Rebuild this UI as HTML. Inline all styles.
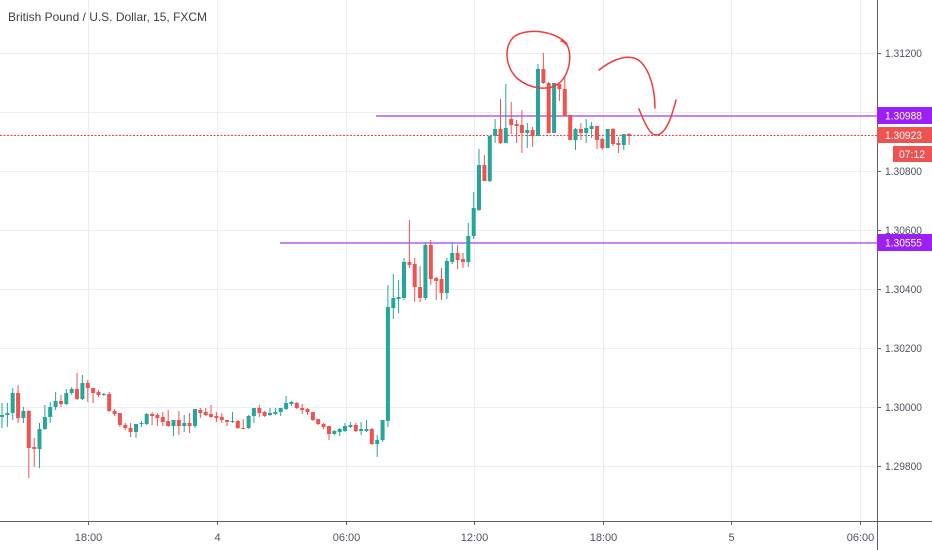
<!DOCTYPE html>
<html>
<head>
<meta charset="utf-8">
<style>
html,body{margin:0;padding:0;background:#fff;}
svg{display:block;}
text{font-family:"Liberation Sans",Arial,sans-serif;}
</style>
</head>
<body>
<svg width="932" height="550" viewBox="0 0 932 550" xmlns="http://www.w3.org/2000/svg">
<rect x="0" y="0" width="932" height="550" fill="#ffffff"/>
<g stroke="#e8edf3" stroke-width="1">
<line x1="88.5" y1="0" x2="88.5" y2="521"/>
<line x1="217.5" y1="0" x2="217.5" y2="521"/>
<line x1="346.5" y1="0" x2="346.5" y2="521"/>
<line x1="474.5" y1="0" x2="474.5" y2="521"/>
<line x1="603.5" y1="0" x2="603.5" y2="521"/>
<line x1="731.5" y1="0" x2="731.5" y2="521"/>
<line x1="860.5" y1="0" x2="860.5" y2="521"/>
<line x1="0" y1="53.5" x2="877" y2="53.5"/>
<line x1="0" y1="112.5" x2="877" y2="112.5"/>
<line x1="0" y1="171.5" x2="877" y2="171.5"/>
<line x1="0" y1="230.5" x2="877" y2="230.5"/>
<line x1="0" y1="289.5" x2="877" y2="289.5"/>
<line x1="0" y1="348.5" x2="877" y2="348.5"/>
<line x1="0" y1="407.5" x2="877" y2="407.5"/>
<line x1="0" y1="466.5" x2="877" y2="466.5"/>
</g>
<text x="8" y="21" font-size="12" fill="#3f3f3f" textLength="199" lengthAdjust="spacingAndGlyphs">British Pound / U.S. Dollar, 15, FXCM</text>
<line x1="0" y1="135.5" x2="877" y2="135.5" stroke="#f0403c" stroke-width="1" stroke-dasharray="2,1.5"/>
<line x1="376" y1="116" x2="877" y2="116" stroke="#b65af2" stroke-width="1.5"/>
<line x1="280" y1="243" x2="877" y2="243" stroke="#b65af2" stroke-width="1.5"/>
<path fill="#26a69a" d="M1.5 403h1v25h-1z M0 415h4v2h-4z M6.9 403h1v24h-1z M5.4 413h4v2h-4z M12.2 388h1v32h-1z M10.7 393h4v20h-4z M22.9 407h1v16h-1z M21.4 411h4v7h-4z M39 423h1v45h-1z M37.5 429h4v20h-4z M44.4 405h1v25h-1z M42.9 417h4v12h-4z M49.7 402h1v21h-1z M48.2 407h4v10h-4z M55.1 392h1v18h-1z M53.6 401h4v6h-4z M65.8 389h1v16h-1z M64.3 393h4v11h-4z M71.2 387h1v8h-1z M69.7 389h4v4h-4z M81.9 375h1v25h-1z M80.4 383h4v16h-4z M103.3 393h1v3h-1z M101.8 394h4v1h-4z M135.5 424h1v14h-1z M134 424h4v8h-4z M140.9 421h1v6h-1z M139.4 423h4v1h-4z M146.2 413h1v12h-1z M144.7 414h4v10h-4z M173 420h1v16h-1z M171.5 420h4v6h-4z M183.7 415h1v17h-1z M182.2 423h4v3h-4z M194.5 409h1v19h-1z M193 409h4v17h-4z M232 412h1v11h-1z M230.5 421h4v1h-4z M248.1 415h1v14h-1z M246.6 416h4v12h-4z M253.4 408h1v15h-1z M251.9 408h4v8h-4z M269.5 408h1v8h-1z M268 413h4v2h-4z M274.9 408h1v7h-1z M273.4 412h4v2h-4z M280.2 408h1v8h-1z M278.7 408h4v4h-4z M285.6 396h1v14h-1z M284.1 403h4v6h-4z M290.9 401h1v5h-1z M289.4 402h4v2h-4z M333.8 430h1v5h-1z M332.3 431h4v3h-4z M339.2 428h1v8h-1z M337.7 429h4v3h-4z M344.5 423h1v9h-1z M343 426h4v5h-4z M349.9 422h1v6h-1z M348.4 425h4v2h-4z M360.6 422h1v13h-1z M359.1 429h4v2h-4z M366 420h1v12h-1z M364.5 429h4v2h-4z M376.7 435h1v22h-1z M375.2 440h4v4h-4z M382.1 420h1v22h-1z M380.6 420h4v20h-4z M387.4 285h1v142h-1z M385.9 307h4v114h-4z M392.8 274h1v45h-1z M391.3 298h4v10h-4z M398.1 280h1v33h-1z M396.6 297h4v2h-4z M403.5 258h1v42h-1z M402 262h4v36h-4z M424.9 243h1v57h-1z M423.4 245h4v53h-4z M446.4 258h1v41h-1z M444.9 261h4v32h-4z M451.7 243h1v21h-1z M450.2 253h4v9h-4z M467.8 223h1v44h-1z M466.3 236h4v26h-4z M473.2 192h1v47h-1z M471.7 208h4v28h-4z M478.5 149h1v62h-1z M477 165h4v45h-4z M489.3 136h1v46h-1z M487.8 136h4v45h-4z M494.6 119h1v24h-1z M493.1 129h4v7h-4z M505.3 84h1v59h-1z M503.8 128h4v15h-4z M526.8 123h1v25h-1z M525.3 130h4v3h-4z M537.5 64h1v72h-1z M536 69h4v67h-4z M553.6 83h1v50h-1z M552.1 83h4v50h-4z M575 128h1v22h-1z M573.5 129h4v11h-4z M585.7 119h1v24h-1z M584.2 128h4v5h-4z M591.1 122h1v16h-1z M589.6 126h4v3h-4z M607.2 129h1v19h-1z M605.7 129h4v19h-4z M623.3 134h1v16h-1z M621.8 134h4v11h-4z"/>
<path fill="#ef5350" d="M17.6 385h1v38h-1z M16.1 393h4v25h-4z M28.3 410h1v68h-1z M26.8 411h4v37h-4z M33.7 438h1v29h-1z M32.2 447h4v2h-4z M60.5 395h1v12h-1z M59 401h4v3h-4z M76.5 373h1v27h-1z M75 389h4v10h-4z M87.3 380h1v22h-1z M85.8 383h4v5h-4z M92.6 388h1v15h-1z M91.1 388h4v5h-4z M98 390h1v7h-1z M96.5 392h4v3h-4z M108.7 392h1v20h-1z M107.2 394h4v17h-4z M114.1 409h1v7h-1z M112.6 411h4v3h-4z M119.4 413h1v14h-1z M117.9 413h4v12h-4z M124.8 423h1v7h-1z M123.3 425h4v3h-4z M130.1 423h1v14h-1z M128.6 428h4v4h-4z M151.6 412h1v13h-1z M150.1 414h4v2h-4z M156.9 413h1v13h-1z M155.4 415h4v3h-4z M162.3 412h1v14h-1z M160.8 417h4v5h-4z M167.7 410h1v17h-1z M166.2 421h4v5h-4z M178.4 411h1v24h-1z M176.9 420h4v6h-4z M189.1 413h1v20h-1z M187.6 423h4v3h-4z M199.8 408h1v10h-1z M198.3 410h4v3h-4z M205.2 408h1v8h-1z M203.7 412h4v3h-4z M210.5 405h1v13h-1z M209 414h4v3h-4z M215.9 412h1v10h-1z M214.4 416h4v2h-4z M221.3 413h1v10h-1z M219.8 417h4v3h-4z M226.6 420h1v6h-1z M225.1 420h4v2h-4z M237.3 420h1v9h-1z M235.8 421h4v7h-4z M242.7 419h1v10h-1z M241.2 428h4v1h-4z M258.8 405h1v12h-1z M257.3 408h4v5h-4z M264.1 411h1v6h-1z M262.6 412h4v4h-4z M296.3 402h1v7h-1z M294.8 403h4v5h-4z M301.7 404h1v10h-1z M300.2 408h4v2h-4z M307 408h1v7h-1z M305.5 409h4v3h-4z M312.4 412h1v9h-1z M310.9 412h4v8h-4z M317.7 419h1v6h-1z M316.2 419h4v5h-4z M323.1 423h1v6h-1z M321.6 424h4v3h-4z M328.5 426h1v14h-1z M327 426h4v8h-4z M355.3 423h1v9h-1z M353.8 425h4v6h-4z M371.3 428h1v17h-1z M369.8 429h4v15h-4z M408.9 220h1v48h-1z M407.4 262h4v3h-4z M414.2 258h1v44h-1z M412.7 264h4v23h-4z M419.6 266h1v36h-1z M418.1 287h4v11h-4z M430.3 240h1v45h-1z M428.8 245h4v34h-4z M435.7 277h1v23h-1z M434.2 278h4v3h-4z M441 268h1v32h-1z M439.5 279h4v14h-4z M457.1 245h1v24h-1z M455.6 253h4v7h-4z M462.5 253h1v15h-1z M461 259h4v3h-4z M483.9 155h1v26h-1z M482.4 165h4v16h-4z M500 99h1v45h-1z M498.5 129h4v14h-4z M510.7 102h1v32h-1z M509.2 119h4v6h-4z M516.1 120h1v23h-1z M514.6 124h4v2h-4z M521.4 110h1v43h-1z M519.9 125h4v8h-4z M532.1 127h1v20h-1z M530.6 130h4v6h-4z M542.9 53h1v31h-1z M541.4 69h4v14h-4z M548.2 82h1v51h-1z M546.7 83h4v50h-4z M558.9 84h1v17h-1z M557.4 84h4v5h-4z M564.3 76h1v40h-1z M562.8 89h4v27h-4z M569.7 115h1v25h-1z M568.2 115h4v25h-4z M580.4 123h1v17h-1z M578.9 129h4v4h-4z M596.5 126h1v23h-1z M595 126h4v14h-4z M601.8 138h1v12h-1z M600.3 139h4v9h-4z M612.5 128h1v18h-1z M611 129h4v15h-4z M617.9 137h1v16h-1z M616.4 143h4v2h-4z M628.6 133h1v12h-1z M627.1 134h4v2h-4z"/>
<g fill="none" stroke="#f23b3b" stroke-width="1.5" stroke-linecap="round">
<path d="M567 44 C557 32 530 27 515 36 C503 45 505 68 518 79 C530 89 548 91 558 84 C569 76 572 58 568 47 C566 43 563 41 561 41"/>
<path d="M599 70 C610 61 624 55 634 58 C647 62 655 85 655 108"/>
<path d="M639 109 C645 124 650 135 656 135 C666 135 672 116 676 100"/>
</g>
<line x1="877.5" y1="0" x2="877.5" y2="550" stroke="#5d606b" stroke-width="1"/>
<line x1="0" y1="521.5" x2="932" y2="521.5" stroke="#5d606b" stroke-width="1"/>
<g stroke="#5d606b" stroke-width="1">
<line x1="877" y1="53.5" x2="881" y2="53.5"/>
<line x1="877" y1="171.5" x2="881" y2="171.5"/>
<line x1="877" y1="230.5" x2="881" y2="230.5"/>
<line x1="877" y1="289.5" x2="881" y2="289.5"/>
<line x1="877" y1="348.5" x2="881" y2="348.5"/>
<line x1="877" y1="407.5" x2="881" y2="407.5"/>
<line x1="877" y1="466.5" x2="881" y2="466.5"/>
<line x1="88.5" y1="521" x2="88.5" y2="525"/>
<line x1="217.5" y1="521" x2="217.5" y2="525"/>
<line x1="346.5" y1="521" x2="346.5" y2="525"/>
<line x1="474.5" y1="521" x2="474.5" y2="525"/>
<line x1="603.5" y1="521" x2="603.5" y2="525"/>
<line x1="731.5" y1="521" x2="731.5" y2="525"/>
<line x1="860.5" y1="521" x2="860.5" y2="525"/>
</g>
<g font-size="11" fill="#4f5360">
<text x="885" y="57" textLength="37" lengthAdjust="spacingAndGlyphs">1.31200</text>
<text x="885" y="175" textLength="37" lengthAdjust="spacingAndGlyphs">1.30800</text>
<text x="885" y="234" textLength="37" lengthAdjust="spacingAndGlyphs">1.30600</text>
<text x="885" y="293" textLength="37" lengthAdjust="spacingAndGlyphs">1.30400</text>
<text x="885" y="352" textLength="37" lengthAdjust="spacingAndGlyphs">1.30200</text>
<text x="885" y="411" textLength="37" lengthAdjust="spacingAndGlyphs">1.30000</text>
<text x="885" y="470" textLength="37" lengthAdjust="spacingAndGlyphs">1.29800</text>
</g>
<g font-size="11" fill="#4f5360" text-anchor="middle">
<text x="88.5" y="541">18:00</text>
<text x="217.5" y="541">4</text>
<text x="346.5" y="541">06:00</text>
<text x="474.5" y="541">12:00</text>
<text x="603.5" y="541">18:00</text>
<text x="731.5" y="541">5</text>
<text x="860.5" y="541">06:00</text>
</g>
<rect x="877" y="107" width="55" height="17" fill="#9c1ff5"/>
<text x="885" y="119.5" font-size="11" fill="#ffffff" textLength="37" lengthAdjust="spacingAndGlyphs">1.30988</text>
<rect x="877" y="127" width="55" height="16" fill="#ef5350"/>
<text x="885" y="139" font-size="11" fill="#ffffff" textLength="37" lengthAdjust="spacingAndGlyphs">1.30923</text>
<rect x="893" y="146" width="39" height="16" fill="#ef5350"/>
<text x="899" y="158" font-size="11" fill="#ffffff" textLength="26" lengthAdjust="spacingAndGlyphs">07:12</text>
<rect x="877" y="234" width="55" height="17" fill="#9c1ff5"/>
<text x="885" y="246.5" font-size="11" fill="#ffffff" textLength="37" lengthAdjust="spacingAndGlyphs">1.30555</text>
</svg>
</body>
</html>
